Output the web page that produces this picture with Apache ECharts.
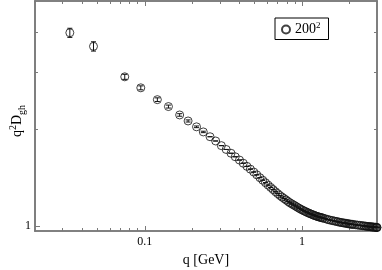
<!DOCTYPE html>
<html><head><meta charset="utf-8">
<script src="https://cdn.jsdelivr.net/npm/echarts@6/dist/echarts.min.js"></script>
<style>html,body{margin:0;padding:0;background:#fff}#c{width:382px;height:270px}</style>
</head><body><div id="c"></div>
<script>
// ---- data ----
const seriesName = '200';
const qValues = [
  0.03332, 0.04712, 0.0745, 0.09423, 0.1201, 0.1413, 0.1665, 0.1884, 0.2132, 0.2354,
  0.2599, 0.2823, 0.3067, 0.3292, 0.3534, 0.376, 0.4, 0.4227, 0.4466, 0.4693,
  0.4931, 0.5158, 0.5395, 0.5621, 0.5857, 0.6084, 0.6318, 0.6544, 0.6778, 0.7003,
  0.7236, 0.7461, 0.7692, 0.7916, 0.8146, 0.837, 0.8599, 0.8821, 0.9049, 0.9271,
  0.9497, 0.9718, 0.9942, 1.016, 1.039, 1.06, 1.083, 1.104, 1.126, 1.148,
  1.17, 1.191, 1.213, 1.235, 1.256, 1.277, 1.299, 1.32, 1.341, 1.362,
  1.404, 1.445, 1.486, 1.527, 1.568, 1.607, 1.647, 1.686, 1.725, 1.763,
  1.801, 1.839, 1.876, 1.912, 1.948, 1.984, 2.019, 2.054, 2.088, 2.121,
  2.187, 2.25, 2.312, 2.37, 2.427, 2.481, 2.533, 2.582, 2.629, 2.673,
  2.714, 2.753, 2.789, 2.823, 2.853, 2.906, 2.947, 2.976, 2.994, 3.0
];
const dValues = [
  3.984, 3.615, 2.907, 2.687, 2.469, 2.35, 2.213, 2.12, 2.033, 1.96,
  1.894, 1.837, 1.777, 1.729, 1.683, 1.641, 1.603, 1.567, 1.532, 1.502,
  1.471, 1.442, 1.413, 1.388, 1.363, 1.34, 1.318, 1.298, 1.278, 1.261,
  1.244, 1.23, 1.217, 1.205, 1.192, 1.181, 1.172, 1.163, 1.155, 1.146,
  1.138, 1.131, 1.124, 1.118, 1.112, 1.107, 1.101, 1.097, 1.092, 1.088,
  1.084, 1.08, 1.076, 1.073, 1.07, 1.067, 1.065, 1.063, 1.06, 1.058,
  1.054, 1.049, 1.045, 1.042, 1.039, 1.036, 1.034, 1.031, 1.028, 1.026,
  1.024, 1.022, 1.021, 1.019, 1.017, 1.016, 1.014, 1.013, 1.012, 1.011,
  1.009, 1.007, 1.005, 1.004, 1.002, 1.001, 0.999, 0.998, 0.997, 0.996,
  0.995, 0.994, 0.994, 0.993, 0.992, 0.992, 0.991, 0.99, 0.99, 0.989
];
const errValues = [0.13, 0.12, 0.052, 0.038, 0.032, 0.025, 0.02, 0.016, 0.012, 0.01];
const xMajorTicks = [0.1, 1];
const xMajorLabels = ['0.1', '1'];
const xMinorTicks = [0.03, 0.04, 0.05, 0.06, 0.07, 0.08, 0.09, 0.2, 0.3, 0.4, 0.5, 0.6, 0.7, 0.8, 0.9, 2];
const yMajorTicks = [1];
const yMajorLabels = ['1'];
const yMinorTicks = [2, 3, 4];
const xRange = [0.02, 3];
const yRange = [0.965, 5];

// ---- style ----
const FONT = 'Liberation Serif';
const AXC = '#7a7a7a';

function labelFor(ticks, labels) {
  return function (v) {
    for (let i = 0; i < ticks.length; i++) {
      if (Math.abs(v - ticks[i]) < 1e-6 * ticks[i]) return labels[i];
    }
    return '';
  };
}

function mkAxis(kind, pos, ticks, len, withLabels, extra) {
  const range = kind === 'x' ? xRange : yRange;
  const ax = {
    type: 'log', logBase: 10, min: range[0], max: range[1], position: pos,
    axisLine: { show: true, onZero: false, lineStyle: { color: AXC, width: 1.6 } },
    axisTick: { show: true, inside: true, length: len, customValues: ticks,
      lineStyle: { color: AXC, width: 1 } },
    axisLabel: { show: false },
    splitLine: { show: false },
    minorTick: { show: false }
  };
  if (withLabels) {
    const lt = kind === 'x' ? xMajorTicks : yMajorTicks;
    const ll = kind === 'x' ? xMajorLabels : yMajorLabels;
    ax.axisLabel = { show: true, customValues: lt, formatter: labelFor(lt, ll),
      fontFamily: FONT, fontSize: 12, color: '#000', margin: kind === 'x' ? 5 : 4 };
  }
  return Object.assign(ax, extra || {});
}

const xAxes = [
  mkAxis('x', 'bottom', xMajorTicks, 5, true, {
    name: 'q [GeV]', nameLocation: 'middle', nameGap: 21,
    nameTextStyle: { fontFamily: FONT, fontSize: 14, color: '#000' } }),
  mkAxis('x', 'bottom', xMinorTicks, 3, false),
  mkAxis('x', 'top', xMajorTicks, 5, false),
  mkAxis('x', 'top', xMinorTicks, 3, false)
];
const yAxes = [
  mkAxis('y', 'left', yMajorTicks, 5, true, {
    name: '{m|q}{sup|2}{m|D}{sub|gh}', nameLocation: 'middle', nameGap: 8, nameRotate: 90,
    nameMoveOverlap: false,
    nameTextStyle: { fontFamily: FONT, fontSize: 14, color: '#000', padding: [0, 10, 0, 0],
      rich: {
        m: { fontFamily: FONT, fontSize: 14, lineHeight: 19, color: '#000' },
        sup: { fontFamily: FONT, fontSize: 10, lineHeight: 10, verticalAlign: 'top', color: '#000' },
        sub: { fontFamily: FONT, fontSize: 10, lineHeight: 10, verticalAlign: 'bottom', color: '#000' }
      } } }),
  mkAxis('y', 'left', yMinorTicks, 3, false),
  mkAxis('y', 'right', yMajorTicks, 5, false),
  mkAxis('y', 'right', yMinorTicks, 3, false)
];

const scatterData = qValues.map((q, i) => [q, dValues[i]]);
const errData = qValues.map((q, i) => [q, dValues[i], errValues[i] || 0]);

const chart = echarts.init(document.getElementById('c'), null, { renderer: 'canvas' });
chart.setOption({
  animation: false,
  backgroundColor: '#fff',
  grid: { left: 35, right: 5, top: 1, bottom: 39, containLabel: false, outerBoundsMode: 'none' },
  xAxis: xAxes,
  yAxis: yAxes,
  legend: {
    data: [seriesName], left: 275, top: 18,
    padding: [3, 8, 3, 6], itemWidth: 8, itemHeight: 8,
    borderColor: '#000', borderWidth: 1, borderRadius: 0,
    formatter: '{a|200}{b|2}',
    textStyle: { fontFamily: FONT, fontSize: 14, color: '#000',
      rich: {
        a: { fontFamily: FONT, fontSize: 14, lineHeight: 17, color: '#000' },
        b: { fontFamily: FONT, fontSize: 9, lineHeight: 9, verticalAlign: 'top', color: '#000' }
      } }
  },
  series: [
    {
      name: seriesName, type: 'scatter', xAxisIndex: 0, yAxisIndex: 0,
      symbol: 'circle', symbolSize: 8,
      itemStyle: { color: 'rgba(0,0,0,0)', borderColor: '#111', borderWidth: 1 },
      data: scatterData, clip: false
    },
    {
      name: 'err', type: 'custom', xAxisIndex: 0, yAxisIndex: 0,
      data: errData,
      renderItem: function (params, api) {
        const q = api.value(0), v = api.value(1), e = api.value(2);
        const c = api.coord([q, v]);
        const hi = api.coord([q, v + e]);
        const lo = api.coord([q, v - e]);
        const w = 2.5;
        const st = { stroke: '#111', lineWidth: 1, fill: null };
        return { type: 'group', children: [
          { type: 'line', shape: { x1: c[0], y1: hi[1], x2: c[0], y2: lo[1] }, style: st },
          { type: 'line', shape: { x1: c[0] - w, y1: hi[1], x2: c[0] + w, y2: hi[1] }, style: st },
          { type: 'line', shape: { x1: c[0] - w, y1: lo[1], x2: c[0] + w, y2: lo[1] }, style: st }
        ] };
      }
    }
  ]
});
</script></body></html>
